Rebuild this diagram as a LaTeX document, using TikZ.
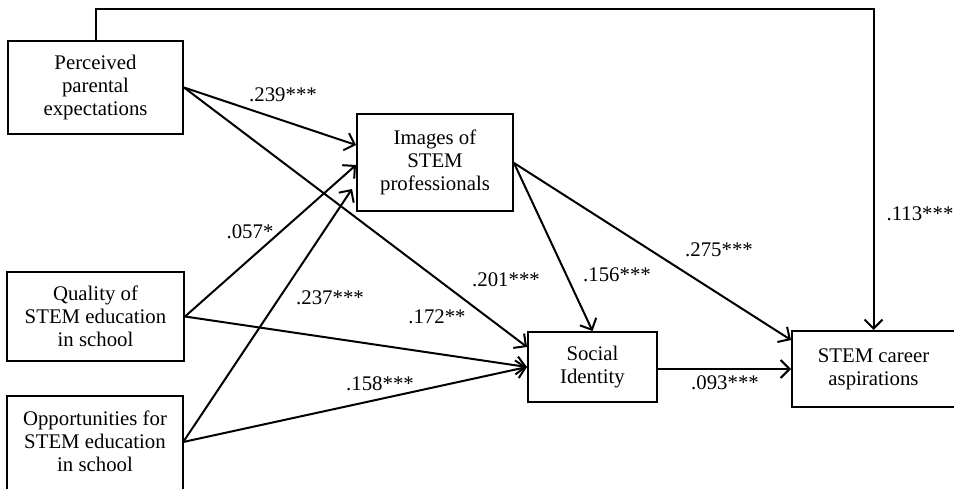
\documentclass[tikz,border=0pt]{standalone}
\usepackage{fontspec}
\setmainfont{Liberation Serif}
\usetikzlibrary{arrows.meta}
\begin{document}
\begin{tikzpicture}[x=1pt,y=-1pt,
  lw/.style={line width=2pt},
  txt/.style={font=\fontsize{20.8}{23}\selectfont, align=center, inner sep=0pt},
  box/.style={txt, draw, lw},
  effect/.style={lw, -{Straight Barb[length=9pt,width=18pt,line width=2pt]}},
  coef/.style={font=\fontsize{20.8}{23}\selectfont, inner sep=0pt}]
\useasboundingbox (0,0) rectangle (954,488);

% constructs
\node[box, minimum width=175pt, minimum height=93pt] (ppe) at (95.5,87.5)
  {Perceived\\parental\\expectations};
\node[box, minimum width=156pt, minimum height=97pt] (img) at (435,162.5)
  {Images of\\STEM\\professionals};
\node[box, minimum width=177pt, minimum height=89pt] (qual) at (95.5,316.5)
  {Quality of\\STEM education\\in school};
\node[txt, minimum width=176pt, minimum height=90pt] (opp) at (95,441)
  {Opportunities for\\STEM education\\in school};
\draw[lw] ([yshift=-12pt]opp.south west) -- (opp.north west)
  -- (opp.north east) -- ([yshift=-12pt]opp.south east);
\node[box, minimum width=129pt, minimum height=70pt] (soc) at (592.5,367)
  {Social\\Identity};
\node[box, minimum width=163pt, minimum height=76pt] (car) at (873.5,369)
  {STEM career\\aspirations};

% direct path from parental expectations to career aspirations
\coordinate (topL) at (95.5,9);
\draw[effect] (ppe.north) -- (topL) -| (car.north);

% paths
\draw[effect] (ppe.east) -- ([yshift=17.5pt]img.west);
\draw[effect] (ppe.east) -- ([yshift=20pt]soc.west);
\draw[effect] (qual.east) -- ([yshift=-2.5pt]img.west);
\draw[effect] (qual.east) -- (soc.west);
\draw[effect] ([yshift=-1pt]opp.east) -- ([xshift=-4pt,yshift=-26.5pt]img.west);
\draw[effect] ([yshift=-1pt]opp.east) -- (soc.west);
\draw[effect] ([yshift=-0.5pt]img.east) -- (soc.north);
\draw[effect] ([yshift=-0.5pt]img.east) -- ([yshift=29pt]car.west);
\draw[effect] (soc.east |- car.west) -- (car.west);

% coefficients
\node[coef] (c1) at (283,95) {.239***};
\node[coef] (c2) at (250,232) {.057*};
\node[coef] (c3) at (330,298) {.237***};
\node[coef] (c4) at (506,280) {.201***};
\node[coef] (c5) at (437,317) {.172**};
\node[coef] (c6) at (380,384) {.158***};
\node[coef] (c7) at (617,275) {.156***};
\node[coef] (c8) at (719,250) {.275***};
\node[coef] (c9) at (725,383) {.093***};
\node[coef] (c10) at (920,214) {.113***};
\end{tikzpicture}
\end{document}
